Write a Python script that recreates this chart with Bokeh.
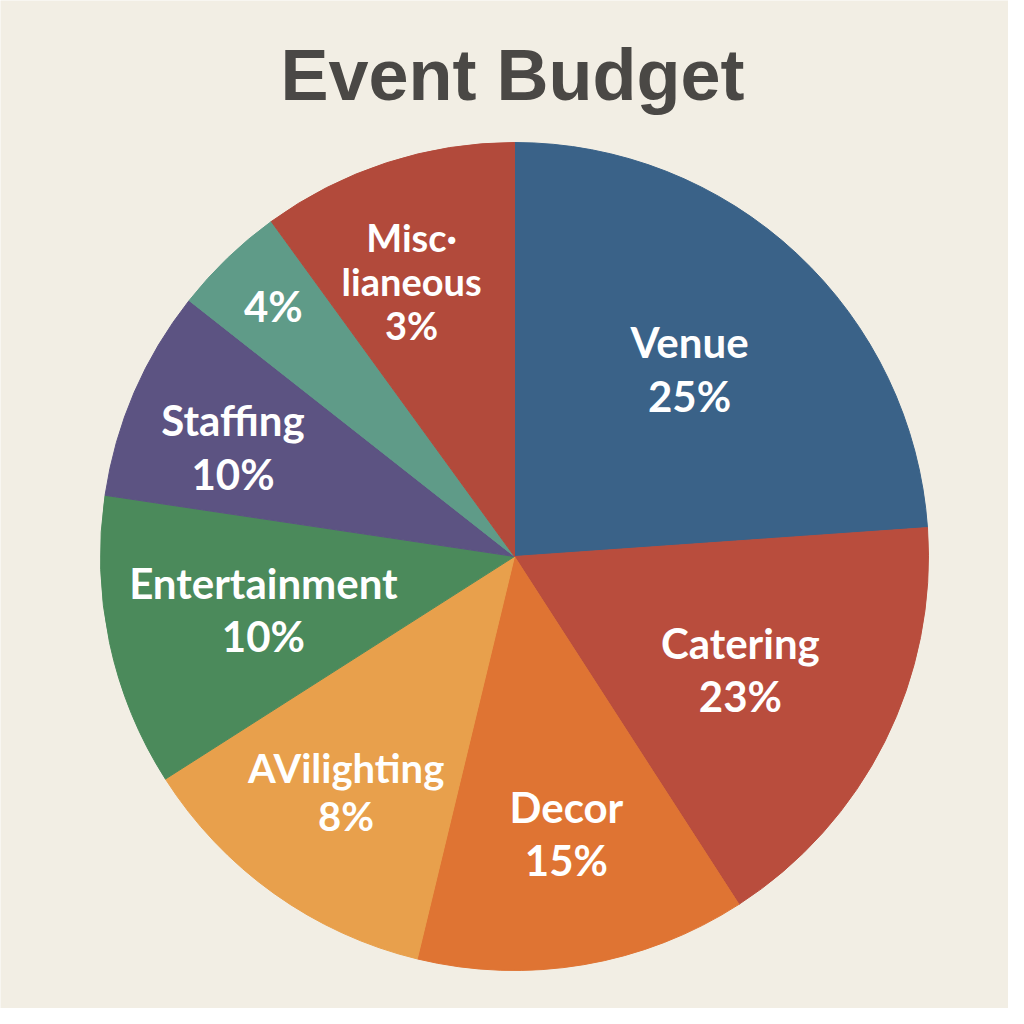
from bokeh.plotting import figure
from bokeh.models import Range1d, ColumnDataSource
from bokeh.core.properties import value
from bokeh.embed import file_html
from bokeh.resources import INLINE
import math

# ---- data ----
categories = ["Venue", "Catering", "Decor", "AV/lighting", "Entertainment", "Staffing", "Other", "Miscellaneous"]
# drawn slice shares (percent of the circle)
shares = [23.9, 17.0, 12.9, 12.2, 11.4, 8.25, 4.4, 10.0]
# label texts printed on the slices
label_lines = [
    ["Venue", "25%"],
    ["Catering", "23%"],
    ["Decor", "15%"],
    ["AVilighting", "8%"],
    ["Entertainment", "10%"],
    ["Staffing", "10%"],
    ["4%"],
    ["Misc\u00b7", "lianeous", "3%"],
]
colors = ["#3a6288", "#b94d3d", "#df7433", "#e8a04c", "#4b8a5b", "#5c5382", "#5f9b88", "#b24a3b"]

# ---- layout ----
W = H = 1008
cx, cy = 514, 452
R = 414
label_r = [0.62, 0.61, 0.68, 0.70, 0.62, 0.73, 0.84, 0.71]
label_da = [0, 0, 1, 0, 0, 2, 0, 2.5]
label_size = [42, 42, 42, 40, 42, 42, 42, 38]
line_h = [54, 53, 53, 48, 53, 54, 54, 44]
bg = "#f2eee4"

p = figure(width=W, height=H, output_backend="svg", toolbar_location=None,
           x_range=Range1d(0, W), y_range=Range1d(0, H), min_border=0)
p.axis.visible = False
p.grid.visible = False
p.outline_line_color = None
p.background_fill_color = bg
p.border_fill_color = bg

total = sum(shares)
starts, ends = [], []
cum = 0.0
for s in shares:
    a0 = 90 - cum / total * 360
    cum += s
    a1 = 90 - cum / total * 360
    starts.append(a0)
    ends.append(a1)

src = ColumnDataSource(dict(x=[cx] * len(shares), y=[cy] * len(shares), start=starts, end=ends,
                            color=colors, cat=categories))
p.wedge(x="x", y="y", radius=R, start_angle="start", end_angle="end", start_angle_units="deg",
        end_angle_units="deg", direction="clock", fill_color="color", line_color="color",
        line_width=1, source=src)

tx, ty, tt, ts = [], [], [], []
for i, lines in enumerate(label_lines):
    mid = math.radians((starts[i] + ends[i]) / 2 + label_da[i])
    mx = cx + label_r[i] * R * math.cos(mid)
    my = cy + label_r[i] * R * math.sin(mid)
    n = len(lines)
    for j, t in enumerate(lines):
        tx.append(mx)
        ty.append(my - (j - (n - 1) / 2) * line_h[i])
        tt.append(t)
        ts.append(f"{label_size[i]}px")

lsrc = ColumnDataSource(dict(x=tx, y=ty, text=tt, size=ts))
p.text(x="x", y="y", text="text", text_font_size="size", source=lsrc, text_color="white",
       text_font=value("Lato"), text_font_style="bold", text_align="center", text_baseline="middle")

p.text(x=[512], y=[934], text=["Event Budget"], text_color="#4a4845",
       text_font=value("Liberation Sans"), text_font_style="bold", text_font_size="72px",
       text_align="center", text_baseline="alphabetic")

open("out.html", "w").write(file_html(p, INLINE))
